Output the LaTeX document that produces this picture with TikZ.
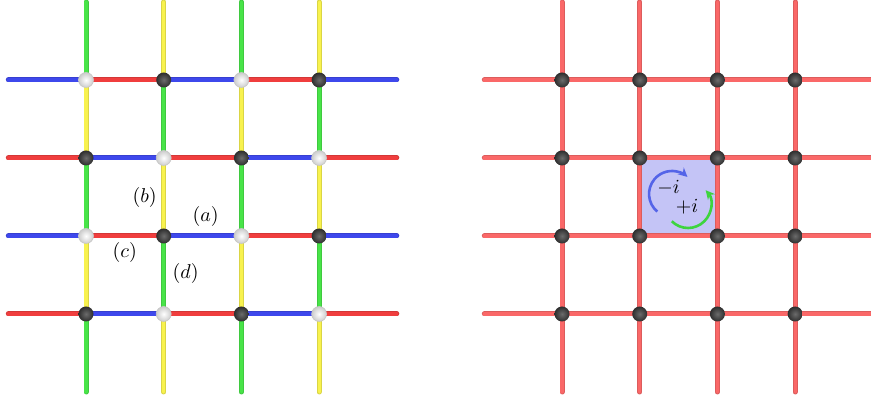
\documentclass[tikz,border=0pt]{standalone}
\usepackage{amsmath}
\usepackage{xcolor}
\usepackage{tikz}
\usetikzlibrary{arrows.meta,positioning,calc,shadings}

\definecolor{linkred}{RGB}{240,62,62}
\definecolor{linkblue}{RGB}{62,72,236}
\definecolor{linkgreen}{RGB}{72,228,72}
\definecolor{linkyellow}{RGB}{248,242,78}
\definecolor{paleRed}{RGB}{250,104,104}
\definecolor{plaqblue}{RGB}{196,196,246}
\definecolor{spinblue}{RGB}{84,100,232}
\definecolor{spingreen}{RGB}{62,212,62}

\tikzset{
  tube/.style={line width=2.5pt, line cap=round, draw=#1!88!black,
    postaction={draw=#1, line width=1.6pt}},
  litesite/.style={circle, inner sep=0pt, minimum size=7.5pt,
    inner color=white, outer color=black!20, draw=black!22, line width=0.3pt},
  darksite/.style={circle, inner sep=0pt, minimum size=7.5pt,
    inner color=black!58, outer color=black!82},
  spin/.style={line width=1.3pt, draw=#1, -{Stealth[length=4.5pt,width=4.5pt]}},
  lbl/.style={inner sep=0pt}
}

\begin{document}
\begin{tikzpicture}[x=0.5pt,y=-0.5pt,>=Stealth]
  \useasboundingbox (0,0) rectangle (871,399);
  % lattice points (row, column), ends of the open links included
  \foreach \r in {0,...,5} \foreach \c in {0,...,5} {
    \coordinate (L\r\c) at (8.3+77.7*\c, 2+78*\r);
    \coordinate (R\r\c) at (484.3+77.7*\c, 2+78*\r);
  }
  % left: coloured links
  \foreach \r in {1,...,4} \foreach \c in {0,...,4} {
    \pgfmathtruncatemacro\s{\r+\c}
    \pgfmathtruncatemacro\n{\c+1}
    \ifodd\s\relax \def\tc{linkblue}\else \def\tc{linkred}\fi
    \draw[tube=\tc] (L\r\c) -- (L\r\n);
  }
  \foreach \c in {1,...,4} \foreach \r in {0,...,4} {
    \pgfmathtruncatemacro\s{\r+\c}
    \pgfmathtruncatemacro\n{\r+1}
    \ifodd\s\relax \def\tc{linkgreen}\else \def\tc{linkyellow}\fi
    \draw[tube=\tc] (L\r\c) -- (L\n\c);
  }
  % right: plaquette and links
  \fill[plaqblue] (R22) rectangle (R33);
  \foreach \r in {1,...,4} \foreach \c in {0,...,4} {
    \pgfmathtruncatemacro\n{\c+1}
    \draw[tube=paleRed] (R\r\c) -- (R\r\n);
  }
  \foreach \c in {1,...,4} \foreach \r in {0,...,4} {
    \pgfmathtruncatemacro\n{\r+1}
    \draw[tube=paleRed] (R\r\c) -- (R\n\c);
  }
  % sites
  \foreach \r in {1,...,4} \foreach \c in {1,...,4} {
    \pgfmathtruncatemacro\s{\r+\c}
    \ifodd\s\relax \node[darksite] (sL\r\c) at (L\r\c) {};
    \else \node[litesite] (sL\r\c) at (L\r\c) {};\fi
    \node[darksite] (sR\r\c) at (R\r\c) {};
  }
  % link labels
  \node[lbl] (la) at ([shift={(42,-19)}]sL32) {$(a)$};
  \node[lbl] (lb) at ([shift={(-19,-38)}]sL32) {$(b)$};
  \node[lbl] (lc) at ([shift={(-39,17)}]sL32) {$(c)$};
  \node[lbl] (ld) at ([shift={(22,38)}]sL32) {$(d)$};
  % circulation in the plaquette
  \coordinate (pc) at ($(R22)!0.5!(R33)$);
  \coordinate (bc) at ($(pc)+(-6.5,-3)$);
  \coordinate (gc) at ($(pc)+(9.5,8)$);
  \draw[spin=spinblue] ([shift={(-230:23)}]bc) arc[start angle=-230, end angle=-48, radius=23];
  \draw[spin=spingreen] ([shift={(-225:23)}]gc) arc[start angle=-225, end angle=-400, radius=23];
  \node[lbl] (mi) at ([shift={(-10,-9)}]pc) {$-i$};
  \node[lbl] (pi) at ([shift={(8.5,10)}]pc) {$+i$};
\end{tikzpicture}
\end{document}
